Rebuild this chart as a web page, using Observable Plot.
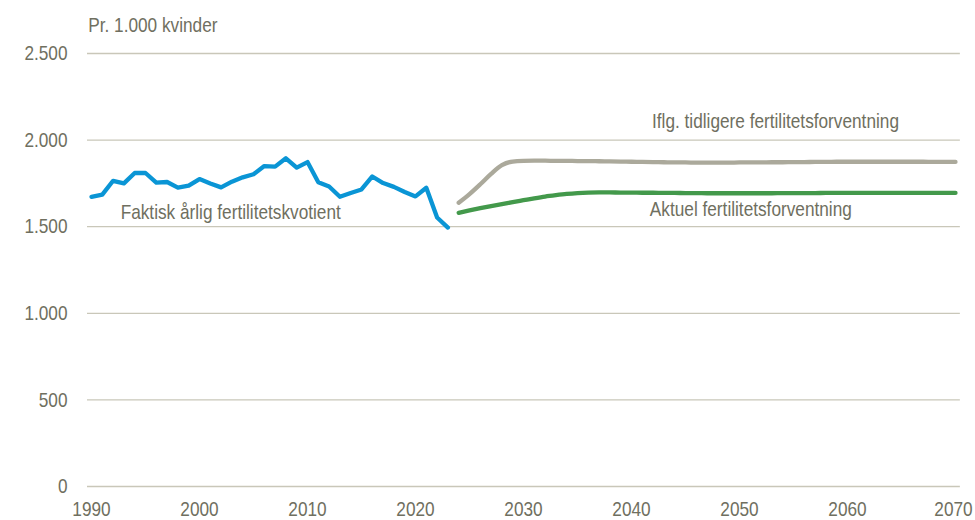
<!DOCTYPE html>
<html>
<head>
<meta charset="utf-8">
<script src="https://cdn.jsdelivr.net/npm/d3@7"></script>
<script src="https://cdn.jsdelivr.net/npm/@observablehq/plot@0.6"></script>
<style>
  html, body { margin: 0; padding: 0; background: #fff; }
  #chart { width: 975px; height: 520px; }
</style>
</head>
<body>
<div id="chart"></div>
<script>
const actualYears = d3.range(1990, 2024);
const actualValues = [1672,1685,1765,1750,1810,1810,1755,1758,1726,1737,1775,1750,1727,1760,1785,1803,1850,1847,1895,1841,1873,1757,1732,1673,1695,1715,1790,1752,1730,1700,1675,1725,1553,1495];

const projYears = d3.range(2024, 2071);
const previousValues = [1638,1688,1745,1805,1855,1876,1880,1881,1881,1880,1880,1879,1879,1878,1877,1876,1875,1874,1873,1872,1871,1871,1870,1870,1870,1870,1871,1871,1871,1872,1872,1873,1873,1874,1874,1875,1875,1875,1875,1875,1875,1875,1875,1875,1874,1874,1874];
const currentValues = [1580,1594,1607,1619,1630,1642,1653,1664,1674,1682,1689,1694,1697,1698,1698,1697,1697,1696,1696,1695,1695,1694,1694,1693,1693,1693,1693,1693,1693,1693,1694,1694,1694,1694,1695,1695,1695,1695,1695,1695,1695,1695,1695,1695,1695,1695,1695];

const yTicks = [0, 500, 1000, 1500, 2000, 2500];
const xTicks = [1990, 2000, 2010, 2020, 2030, 2040, 2050, 2060, 2070];

const labels = [
  {text: "Faktisk årlig fertilitetskvotient", x: 1992.7, y: 1585},
  {text: "Iflg. tidligere fertilitetsforventning", x: 2041.9, y: 2110},
  {text: "Aktuel fertilitetsforventning", x: 2041.7, y: 1603}
];
const unitLabel = "Pr. 1.000 kvinder";

const actual = actualYears.map((y, i) => ({year: y, value: actualValues[i]}));
const previous = projYears.map((y, i) => ({year: y, value: previousValues[i]}));
const current = projYears.map((y, i) => ({year: y, value: currentValues[i]}));

const textColor = "#6f6f60";
const fontFam = "'Liberation Sans', Arial, sans-serif";
const fmt = d => d3.format(",")(d).replace(/,/g, ".");

const chart = Plot.plot({
  width: 975,
  height: 520,
  marginLeft: 91,
  marginRight: 20,
  marginTop: 53,
  marginBottom: 34,
  style: {fontFamily: fontFam, fontSize: "21px", color: textColor, background: "#fff"},
  x: {domain: [1990, 2070], ticks: xTicks, tickFormat: d => String(d), tickSize: 0, tickPadding: 15, label: null},
  y: {domain: [0, 2500], ticks: yTicks, tickFormat: fmt, tickSize: 0, tickPadding: 24, label: null},
  marks: [
    Plot.ruleY(yTicks, {x1: 1989.63, x2: 2070.45, stroke: "#c9c7b9", strokeWidth: 1.3}),
    Plot.line(previous, {x: "year", y: "value", stroke: "#aba99b", strokeWidth: 4.3, curve: "monotone-x"}),
    Plot.line(current, {x: "year", y: "value", stroke: "#43994b", strokeWidth: 4.3, curve: "monotone-x"}),
    Plot.line(actual, {x: "year", y: "value", stroke: "#0a95d5", strokeWidth: 4.3, strokeLinejoin: "round"}),
    Plot.text(labels, {x: "x", y: "y", text: "text", textAnchor: "start", fill: textColor, fontSize: 21}),
    Plot.text([unitLabel], {x: 1989.7, y: 2500, text: d => d, textAnchor: "start", dy: -28, fill: textColor, fontSize: 21})
  ]
});
document.getElementById("chart").appendChild(chart);
// Emulate a narrow (condensed) typeface by compressing glyphs horizontally
chart.querySelectorAll("text").forEach(t => {
  const w = t.getComputedTextLength();
  if (w > 0) {
    t.setAttribute("textLength", (w * 0.82).toFixed(2));
    t.setAttribute("lengthAdjust", "spacingAndGlyphs");
  }
  if (t.textContent === "2070") t.setAttribute("dx", "-2");
});
</script>
</body>
</html>
